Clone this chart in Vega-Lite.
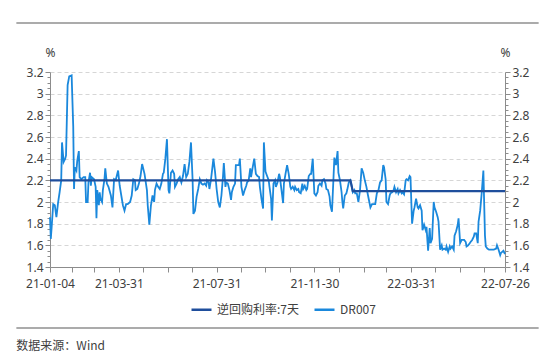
{
  "$schema": "https://vega.github.io/schema/vega-lite/v6.json",
  "width": 455,
  "height": 195,
  "autosize": {"type": "none"},
  "padding": {"left": 50, "top": 72, "right": 49, "bottom": 95},
  "background": "white",
  "datasets": {
    "dr007": [
      {"date":"2021-01-04","value":1.86},{"date":"2021-01-05","value":1.66},{"date":"2021-01-06","value":1.76},{"date":"2021-01-08","value":1.98},{"date":"2021-01-10","value":1.97},{"date":"2021-01-12","value":1.86},{"date":"2021-01-14","value":1.99},{"date":"2021-01-16","value":2.09},{"date":"2021-01-18","value":2.2},{"date":"2021-01-19","value":2.55},{"date":"2021-01-21","value":2.37},{"date":"2021-01-23","value":2.4},{"date":"2021-01-24","value":2.43},{"date":"2021-01-26","value":3.08},{"date":"2021-01-28","value":3.16},{"date":"2021-01-31","value":3.17},{"date":"2021-02-02","value":2.7},{"date":"2021-02-03","value":2.12},{"date":"2021-02-04","value":2.32},{"date":"2021-02-06","value":2.29},{"date":"2021-02-07","value":2.38},{"date":"2021-02-09","value":2.47},{"date":"2021-02-10","value":2.23},{"date":"2021-02-12","value":2.21},{"date":"2021-02-15","value":2.23},{"date":"2021-02-17","value":2.23},{"date":"2021-02-18","value":2.0},{"date":"2021-02-20","value":2.0},{"date":"2021-02-21","value":2.18},{"date":"2021-02-23","value":2.27},{"date":"2021-02-24","value":2.15},{"date":"2021-02-25","value":2.23},{"date":"2021-02-28","value":2.21},{"date":"2021-03-02","value":2.14},{"date":"2021-03-03","value":1.85},{"date":"2021-03-04","value":2.11},{"date":"2021-03-06","value":1.97},{"date":"2021-03-07","value":2.09},{"date":"2021-03-08","value":2.03},{"date":"2021-03-10","value":2.0},{"date":"2021-03-11","value":2.11},{"date":"2021-03-13","value":2.21},{"date":"2021-03-14","value":2.31},{"date":"2021-03-16","value":2.17},{"date":"2021-03-18","value":2.14},{"date":"2021-03-21","value":2.06},{"date":"2021-03-23","value":1.95},{"date":"2021-03-25","value":2.21},{"date":"2021-03-27","value":2.2},{"date":"2021-03-30","value":2.29},{"date":"2021-04-01","value":2.15},{"date":"2021-04-03","value":2.06},{"date":"2021-04-05","value":1.97},{"date":"2021-04-07","value":1.92},{"date":"2021-04-09","value":1.98},{"date":"2021-04-11","value":1.98},{"date":"2021-04-14","value":2.0},{"date":"2021-04-16","value":2.06},{"date":"2021-04-18","value":2.21},{"date":"2021-04-20","value":2.2},{"date":"2021-04-21","value":2.11},{"date":"2021-04-23","value":2.12},{"date":"2021-04-25","value":2.17},{"date":"2021-04-27","value":2.24},{"date":"2021-04-29","value":2.35},{"date":"2021-05-02","value":2.26},{"date":"2021-05-05","value":2.11},{"date":"2021-05-06","value":1.97},{"date":"2021-05-08","value":1.79},{"date":"2021-05-10","value":1.97},{"date":"2021-05-12","value":2.06},{"date":"2021-05-14","value":2.0},{"date":"2021-05-15","value":2.11},{"date":"2021-05-17","value":2.17},{"date":"2021-05-19","value":2.14},{"date":"2021-05-21","value":2.12},{"date":"2021-05-23","value":2.17},{"date":"2021-05-25","value":2.26},{"date":"2021-05-26","value":2.27},{"date":"2021-05-28","value":2.4},{"date":"2021-05-30","value":2.58},{"date":"2021-06-01","value":2.11},{"date":"2021-06-02","value":2.08},{"date":"2021-06-04","value":2.27},{"date":"2021-06-06","value":2.29},{"date":"2021-06-08","value":2.26},{"date":"2021-06-09","value":2.14},{"date":"2021-06-11","value":2.17},{"date":"2021-06-13","value":2.21},{"date":"2021-06-15","value":2.23},{"date":"2021-06-17","value":2.18},{"date":"2021-06-19","value":2.24},{"date":"2021-06-21","value":2.35},{"date":"2021-06-23","value":2.23},{"date":"2021-06-25","value":2.26},{"date":"2021-06-27","value":2.37},{"date":"2021-06-29","value":2.55},{"date":"2021-07-01","value":2.21},{"date":"2021-07-02","value":1.89},{"date":"2021-07-04","value":1.92},{"date":"2021-07-06","value":2.05},{"date":"2021-07-08","value":2.12},{"date":"2021-07-10","value":2.21},{"date":"2021-07-12","value":2.17},
      {"date":"2021-07-14","value":2.16},{"date":"2021-07-16","value":2.17},{"date":"2021-07-18","value":2.15},{"date":"2021-07-19","value":2.2},{"date":"2021-07-21","value":2.18},{"date":"2021-07-22","value":2.12},{"date":"2021-07-24","value":2.21},{"date":"2021-07-27","value":2.4},{"date":"2021-07-29","value":2.28},{"date":"2021-07-31","value":2.12},{"date":"2021-08-02","value":2.0},{"date":"2021-08-04","value":1.95},{"date":"2021-08-06","value":2.06},{"date":"2021-08-08","value":2.24},{"date":"2021-08-09","value":2.36},{"date":"2021-08-11","value":2.14},{"date":"2021-08-12","value":2.18},{"date":"2021-08-14","value":2.17},{"date":"2021-08-16","value":2.11},{"date":"2021-08-18","value":2.02},{"date":"2021-08-19","value":2.09},{"date":"2021-08-21","value":2.14},{"date":"2021-08-23","value":2.17},{"date":"2021-08-24","value":2.34},{"date":"2021-08-26","value":2.34},{"date":"2021-08-28","value":2.34},{"date":"2021-08-29","value":2.4},{"date":"2021-08-31","value":2.14},{"date":"2021-09-02","value":2.06},{"date":"2021-09-04","value":2.11},{"date":"2021-09-06","value":2.15},{"date":"2021-09-07","value":2.18},{"date":"2021-09-09","value":2.2},{"date":"2021-09-11","value":2.31},{"date":"2021-09-12","value":2.23},{"date":"2021-09-14","value":2.32},{"date":"2021-09-16","value":2.4},{"date":"2021-09-18","value":2.26},{"date":"2021-09-20","value":2.24},{"date":"2021-09-22","value":2.23},{"date":"2021-09-23","value":2.14},{"date":"2021-09-25","value":2.03},{"date":"2021-09-27","value":1.94},{"date":"2021-09-28","value":2.55},{"date":"2021-09-30","value":2.28},{"date":"2021-10-02","value":2.24},{"date":"2021-10-04","value":2.2},{"date":"2021-10-05","value":2.14},{"date":"2021-10-07","value":2.03},{"date":"2021-10-08","value":1.83},{"date":"2021-10-10","value":2.17},{"date":"2021-10-12","value":2.2},{"date":"2021-10-13","value":2.14},{"date":"2021-10-15","value":2.18},{"date":"2021-10-17","value":2.26},{"date":"2021-10-18","value":2.23},{"date":"2021-10-20","value":2.11},{"date":"2021-10-22","value":1.99},{"date":"2021-10-23","value":2.17},{"date":"2021-10-25","value":2.26},{"date":"2021-10-27","value":2.34},{"date":"2021-10-29","value":2.26},{"date":"2021-10-31","value":2.14},{"date":"2021-11-01","value":2.12},{"date":"2021-11-03","value":2.14},{"date":"2021-11-05","value":2.11},{"date":"2021-11-06","value":2.14},{"date":"2021-11-08","value":2.11},{"date":"2021-11-10","value":2.12},{"date":"2021-11-11","value":2.09},{"date":"2021-11-13","value":2.08},{"date":"2021-11-15","value":2.17},{"date":"2021-11-16","value":2.12},{"date":"2021-11-18","value":2.15},{"date":"2021-11-20","value":2.11},{"date":"2021-11-21","value":2.12},{"date":"2021-11-23","value":2.24},{"date":"2021-11-25","value":2.26},{"date":"2021-11-26","value":2.26},{"date":"2021-11-28","value":2.4},{"date":"2021-11-30","value":2.08},{"date":"2021-12-02","value":2.06},{"date":"2021-12-04","value":2.09},{"date":"2021-12-05","value":2.15},{"date":"2021-12-07","value":2.17},{"date":"2021-12-09","value":2.15},{"date":"2021-12-10","value":2.2},{"date":"2021-12-12","value":2.21},{"date":"2021-12-14","value":2.17},{"date":"2021-12-15","value":2.12},{"date":"2021-12-17","value":2.11},{"date":"2021-12-19","value":2.05},{"date":"2021-12-20","value":1.97},{"date":"2021-12-22","value":1.91},{"date":"2021-12-24","value":2.24},{"date":"2021-12-25","value":2.41},{"date":"2021-12-27","value":2.34},{"date":"2021-12-29","value":2.47},{"date":"2021-12-30","value":2.27},{"date":"2022-01-01","value":2.2},{"date":"2022-01-03","value":2.09},{"date":"2022-01-04","value":2.0},{"date":"2022-01-05","value":1.94},{"date":"2022-01-07","value":2.06},{"date":"2022-01-09","value":2.08},{"date":"2022-01-10","value":2.11},{"date":"2022-01-12","value":2.18},{"date":"2022-01-14","value":2.2},{"date":"2022-01-15","value":2.17},{"date":"2022-01-17","value":2.09},
      {"date":"2022-01-19","value":2.11},{"date":"2022-01-20","value":2.08},{"date":"2022-01-22","value":2.08},{"date":"2022-01-24","value":2.0},{"date":"2022-01-26","value":2.11},{"date":"2022-01-28","value":2.31},{"date":"2022-01-30","value":2.27},{"date":"2022-02-01","value":2.2},{"date":"2022-02-03","value":2.14},{"date":"2022-02-05","value":2.06},{"date":"2022-02-08","value":1.95},{"date":"2022-02-10","value":1.98},{"date":"2022-02-12","value":1.98},{"date":"2022-02-14","value":1.98},{"date":"2022-02-16","value":2.08},{"date":"2022-02-18","value":2.11},{"date":"2022-02-20","value":2.18},{"date":"2022-02-22","value":2.2},{"date":"2022-02-24","value":2.34},{"date":"2022-02-25","value":2.32},{"date":"2022-02-27","value":2.21},{"date":"2022-02-28","value":2.0},{"date":"2022-03-02","value":1.98},{"date":"2022-03-04","value":2.06},{"date":"2022-03-05","value":2.08},{"date":"2022-03-07","value":2.09},{"date":"2022-03-09","value":2.11},{"date":"2022-03-10","value":2.14},{"date":"2022-03-12","value":2.09},{"date":"2022-03-14","value":2.12},{"date":"2022-03-15","value":2.08},{"date":"2022-03-17","value":2.11},{"date":"2022-03-19","value":2.08},{"date":"2022-03-20","value":2.09},{"date":"2022-03-22","value":2.07},{"date":"2022-03-24","value":2.2},{"date":"2022-03-25","value":2.21},{"date":"2022-03-27","value":2.2},{"date":"2022-03-29","value":2.24},{"date":"2022-03-30","value":2.23},{"date":"2022-04-01","value":1.8},{"date":"2022-04-03","value":1.92},{"date":"2022-04-04","value":1.95},{"date":"2022-04-06","value":2.03},{"date":"2022-04-08","value":1.95},{"date":"2022-04-09","value":1.94},{"date":"2022-04-11","value":1.97},{"date":"2022-04-13","value":1.92},{"date":"2022-04-14","value":1.74},{"date":"2022-04-16","value":1.79},{"date":"2022-04-18","value":1.74},{"date":"2022-04-19","value":1.77},{"date":"2022-04-21","value":1.55},{"date":"2022-04-23","value":1.76},{"date":"2022-04-24","value":1.62},{"date":"2022-04-26","value":1.66},{"date":"2022-04-28","value":2.0},{"date":"2022-04-29","value":1.95},{"date":"2022-05-01","value":1.91},{"date":"2022-05-03","value":1.86},{"date":"2022-05-04","value":1.82},{"date":"2022-05-06","value":1.56},{"date":"2022-05-08","value":1.6},{"date":"2022-05-09","value":1.56},{"date":"2022-05-11","value":1.57},{"date":"2022-05-13","value":1.56},{"date":"2022-05-14","value":1.59},{"date":"2022-05-16","value":1.54},{"date":"2022-05-18","value":1.59},{"date":"2022-05-19","value":1.57},{"date":"2022-05-21","value":1.59},{"date":"2022-05-23","value":1.56},{"date":"2022-05-24","value":1.69},{"date":"2022-05-26","value":1.73},{"date":"2022-05-28","value":1.79},{"date":"2022-05-29","value":1.85},{"date":"2022-05-31","value":1.62},{"date":"2022-06-02","value":1.65},{"date":"2022-06-03","value":1.65},{"date":"2022-06-05","value":1.65},{"date":"2022-06-07","value":1.63},{"date":"2022-06-08","value":1.59},{"date":"2022-06-10","value":1.6},{"date":"2022-06-12","value":1.62},{"date":"2022-06-13","value":1.63},{"date":"2022-06-15","value":1.65},{"date":"2022-06-17","value":1.68},{"date":"2022-06-18","value":1.71},{"date":"2022-06-20","value":1.71},{"date":"2022-06-22","value":1.62},{"date":"2022-06-23","value":1.82},{"date":"2022-06-25","value":1.92},{"date":"2022-06-27","value":2.09},{"date":"2022-06-29","value":2.29},{"date":"2022-07-01","value":1.69},{"date":"2022-07-02","value":1.59},{"date":"2022-07-04","value":1.57},{"date":"2022-07-06","value":1.56},{"date":"2022-07-09","value":1.56},{"date":"2022-07-12","value":1.56},{"date":"2022-07-15","value":1.57},{"date":"2022-07-16","value":1.6},{"date":"2022-07-18","value":1.56},{"date":"2022-07-20","value":1.51},{"date":"2022-07-21","value":1.53},{"date":"2022-07-24","value":1.55},{"date":"2022-07-26","value":1.52}
    ],
    "policy": [
      {"date":"2021-01-04","value":2.2},{"date":"2022-01-14","value":2.2},{"date":"2022-01-17","value":2.1},{"date":"2022-07-26","value":2.1}
    ]
  },
  "config": {
    "view": {"stroke": null},
    "font": "Noto Sans",
    "axis": {
      "labelFont": "Noto Sans",
      "labelFontSize": 12,
      "labelColor": "#404040",
      "domainColor": "#8c8c8c",
      "tickColor": "#8c8c8c",
      "titleFont": "Noto Sans",
      "titleFontSize": 12,
      "titleFontWeight": "normal",
      "titleColor": "#404040",
      "labelOverlap": false
    },
    "legend": {
      "orient": "none",
      "legendX": 140,
      "legendY": 226,
      "direction": "horizontal",
      "symbolType": "stroke",
      "symbolStrokeWidth": 2.5,
      "symbolSize": 400,
      "labelFont": "Noto Sans CJK SC",
      "labelFontSize": 12,
      "labelColor": "#404040",
      "columnPadding": 10
    }
  },
  "resolve": {"axis": {"y": "independent"}},
  "layer": [
    {
      "data": {"name": "dr007"},
      "mark": {"type": "line", "strokeWidth": 1.8, "clip": false},
      "encoding": {
        "x": {
          "field": "date", "type": "temporal",
          "scale": {"type": "utc", "domain": [{"year":2021,"month":1,"date":4,"utc":true},{"year":2022,"month":7,"date":26,"utc":true}]},
          "axis": {
            "title": null,
            "grid": false,
            "tickSize": 5,
            "tickCount": 200,
            "labelPadding": 6,
            "labelOverlap": false,
            "labelFlush": false,
            "values": [
              {"year":2021,"month":1,"date":4,"utc":true},{"year":2021,"month":1,"date":31,"utc":true},{"year":2021,"month":2,"date":28,"utc":true},{"year":2021,"month":3,"date":31,"utc":true},{"year":2021,"month":4,"date":30,"utc":true},{"year":2021,"month":5,"date":31,"utc":true},{"year":2021,"month":6,"date":30,"utc":true},{"year":2021,"month":7,"date":31,"utc":true},{"year":2021,"month":8,"date":31,"utc":true},{"year":2021,"month":9,"date":30,"utc":true},{"year":2021,"month":10,"date":31,"utc":true},{"year":2021,"month":11,"date":30,"utc":true},{"year":2021,"month":12,"date":31,"utc":true},{"year":2022,"month":1,"date":31,"utc":true},{"year":2022,"month":2,"date":28,"utc":true},{"year":2022,"month":3,"date":31,"utc":true},{"year":2022,"month":4,"date":30,"utc":true},{"year":2022,"month":5,"date":31,"utc":true},{"year":2022,"month":6,"date":30,"utc":true},{"year":2022,"month":7,"date":26,"utc":true}
            ],
            "labelExpr": "indexof(['21-01-04','21-03-31','21-07-31','21-11-30','22-03-31','22-07-26'], utcFormat(datum.value, '%y-%m-%d')) >= 0 ? utcFormat(datum.value, '%y-%m-%d') : ''"
          }
        },
        "y": {
          "field": "value", "type": "quantitative",
          "scale": {"domain": [1.4, 3.2], "zero": false, "nice": false},
          "axis": {
            "orient": "left",
            "tickCount": 200,
            "values": [1.4,1.45,1.5,1.55,1.6,1.65,1.7,1.75,1.8,1.85,1.9,1.95,2.0,2.05,2.1,2.15,2.2,2.25,2.3,2.35,2.4,2.45,2.5,2.55,2.6,2.65,2.7,2.75,2.8,2.85,2.9,2.95,3.0,3.05,3.1,3.15,3.2],
            "labelExpr": "abs(datum.value*5 - round(datum.value*5)) < 0.001 ? format(datum.value, '.1~f') : ''",
            "tickSize": {"condition": {"test": "abs(datum.value*5 - round(datum.value*5)) < 0.001", "value": 5}, "value": 3},
            "grid": true,
            "gridDash": [4, 3],
            "gridColor": "#d6d6d6",
            "gridOpacity": {"condition": {"test": "abs(datum.value*5 - round(datum.value*5)) < 0.001 && datum.value > 1.45", "value": 1}, "value": 0},
            "labelPadding": 2,
            "title": "%",
            "titleAngle": 0,
            "titleX": 0,
            "titleY": -16,
            "titleAlign": "center",
            "titleBaseline": "alphabetic"
          }
        },
        "color": {
          "datum": "DR007",
          "type": "nominal",
          "scale": {"domain": ["逆回购利率:7天", "DR007"], "range": ["#1f4e9c", "#1a88dc"]},
          "legend": {"title": null}
        }
      }
    },
    {
      "data": {"name": "policy"},
      "mark": {"type": "line", "strokeWidth": 2.2, "clip": false},
      "encoding": {
        "x": {"field": "date", "type": "temporal", "scale": {"type": "utc", "domain": [{"year":2021,"month":1,"date":4,"utc":true},{"year":2022,"month":7,"date":26,"utc":true}]}},
        "y": {
          "field": "value", "type": "quantitative",
          "scale": {"domain": [1.4, 3.2], "zero": false, "nice": false},
          "axis": {
            "orient": "right",
            "tickCount": 200,
            "values": [1.4,1.45,1.5,1.55,1.6,1.65,1.7,1.75,1.8,1.85,1.9,1.95,2.0,2.05,2.1,2.15,2.2,2.25,2.3,2.35,2.4,2.45,2.5,2.55,2.6,2.65,2.7,2.75,2.8,2.85,2.9,2.95,3.0,3.05,3.1,3.15,3.2],
            "labelExpr": "abs(datum.value*5 - round(datum.value*5)) < 0.001 ? format(datum.value, '.1~f') : ''",
            "tickSize": {"condition": {"test": "abs(datum.value*5 - round(datum.value*5)) < 0.001", "value": 5}, "value": 3},
            "grid": false,
            "labelPadding": 2,
            "title": "%",
            "titleAngle": 0,
            "titleX": 0,
            "titleY": -16,
            "titleAlign": "center",
            "titleBaseline": "alphabetic"
          }
        },
        "color": {"datum": "逆回购利率:7天", "type": "nominal"}
      }
    },
    {
      "data": {"values": [{}]},
      "mark": {"type": "rule", "color": "#8f8f8f", "strokeWidth": 1.6, "clip": false},
      "encoding": {
        "x": {"datum": {"year":2020,"month":11,"date":23,"utc":true}, "type": "temporal", "scale": {"type": "utc", "domain": [{"year":2021,"month":1,"date":4,"utc":true},{"year":2022,"month":7,"date":26,"utc":true}]}},
        "x2": {"datum": {"year":2022,"month":9,"date":6,"utc":true}},
        "y": {"datum": 3.652, "type": "quantitative", "axis": null}
      }
    },
    {
      "data": {"values": [{}]},
      "mark": {"type": "rule", "color": "#8f8f8f", "strokeWidth": 1.6, "clip": false},
      "encoding": {
        "x": {"datum": {"year":2020,"month":11,"date":23,"utc":true}, "type": "temporal", "scale": {"type": "utc", "domain": [{"year":2021,"month":1,"date":4,"utc":true},{"year":2022,"month":7,"date":26,"utc":true}]}},
        "x2": {"datum": {"year":2022,"month":9,"date":6,"utc":true}},
        "y": {"datum": 0.837, "type": "quantitative", "axis": null}
      }
    },
    {
      "data": {"values": [{"source": "数据来源：Wind"}]},
      "mark": {"type": "text", "align": "left", "baseline": "middle", "font": "Noto Sans CJK SC", "fontSize": 12, "color": "#404040", "clip": false},
      "encoding": {
        "x": {"datum": {"year":2020,"month":11,"date":23,"utc":true}, "type": "temporal", "scale": {"type": "utc", "domain": [{"year":2021,"month":1,"date":4,"utc":true},{"year":2022,"month":7,"date":26,"utc":true}]}},
        "y": {"datum": 0.673, "type": "quantitative", "axis": null},
        "text": {"field": "source", "type": "nominal"}
      }
    }
  ]
}
